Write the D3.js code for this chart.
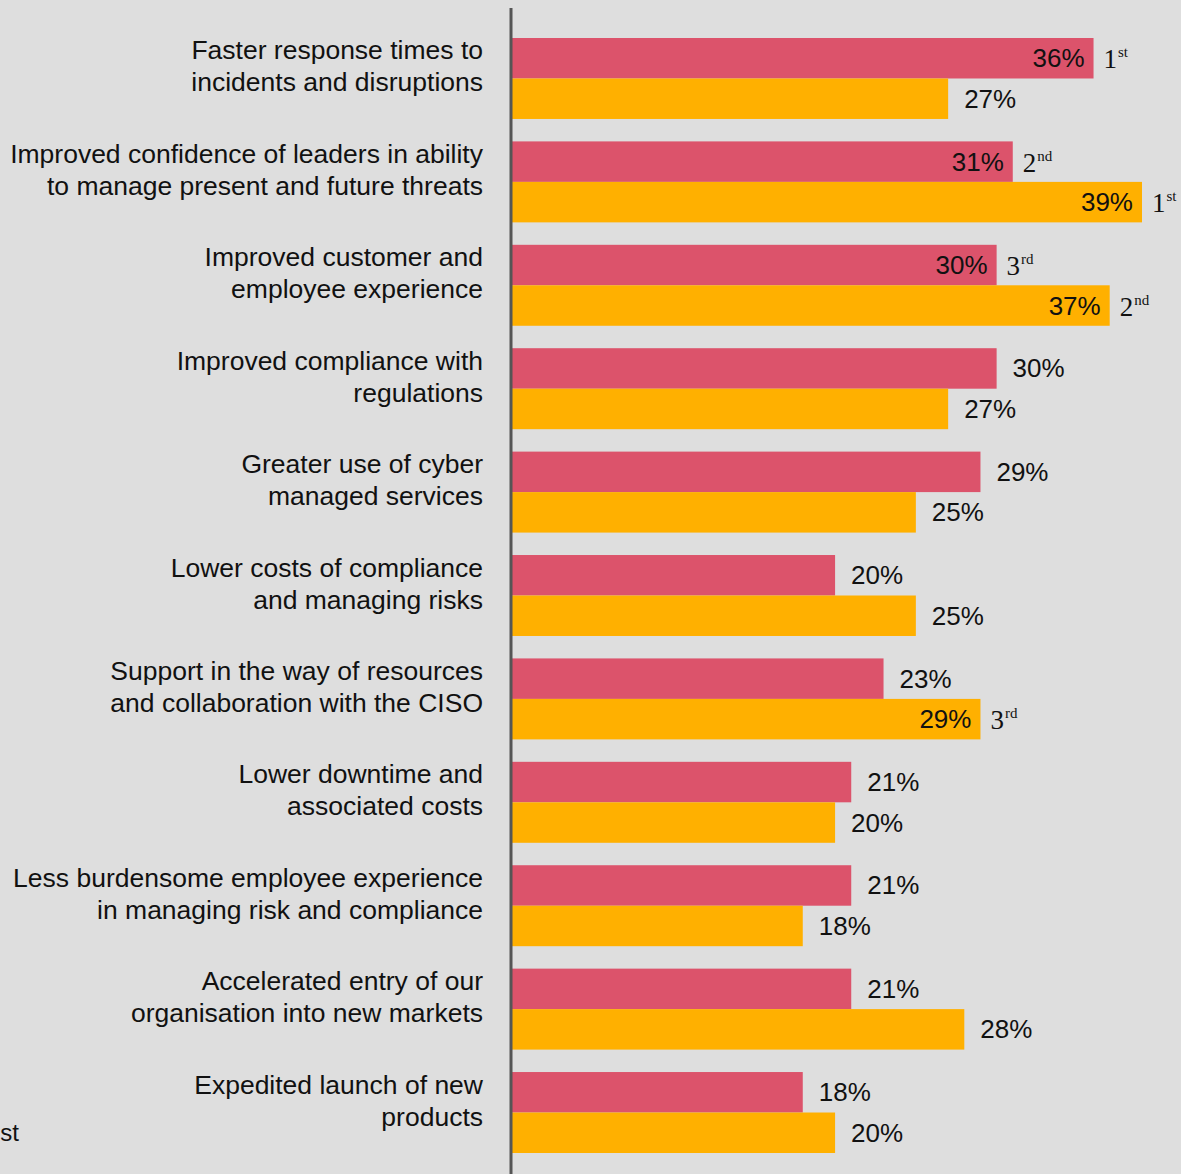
<!DOCTYPE html>
<html>
<head>
<meta charset="utf-8">
<script src="https://cdn.jsdelivr.net/npm/d3@7"></script>
<style>
  html, body { margin: 0; padding: 0; background: #dedede; }
  svg { display: block; }
</style>
</head>
<body>
<svg id="chart" width="1181" height="1174"></svg>
<script>
// Benefit categories, each split into its two display lines
const categories = [
  ["Faster response times to", "incidents and disruptions"],
  ["Improved confidence of leaders in ability", "to manage present and future threats"],
  ["Improved customer and", "employee experience"],
  ["Improved compliance with", "regulations"],
  ["Greater use of cyber", "managed services"],
  ["Lower costs of compliance", "and managing risks"],
  ["Support in the way of resources", "and collaboration with the CISO"],
  ["Lower downtime and", "associated costs"],
  ["Less burdensome employee experience", "in managing risk and compliance"],
  ["Accelerated entry of our", "organisation into new markets"],
  ["Expedited launch of new", "products"]
];

// Share of respondents (%) for the two groups
const seriesA = [36, 31, 30, 30, 29, 20, 23, 21, 21, 21, 18];
const seriesB = [27, 39, 37, 27, 25, 25, 29, 20, 18, 28, 20];

// Rank badges (top three in each group), empty where unranked
const ranksA = ["1st", "2nd", "3rd", "", "", "", "", "", "", "", ""];
const ranksB = ["", "1st", "2nd", "", "", "", "3rd", "", "", "", ""];

const seriesKeys = ["A", "B"];
const colors = { A: "#dc536b", B: "#ffb000" };

const svg = d3.select("#chart");
const W = 1181, H = 1174;
const axisX = 512;

const keys = categories.map((d, i) => i);

const y = d3.scaleBand()
  .domain(keys)
  .range([38, 1153])
  .paddingInner(0.217)
  .paddingOuter(0);

const ySub = d3.scaleBand()
  .domain(seriesKeys)
  .range([0, y.bandwidth()])
  .padding(0);

const x = d3.scaleLinear().domain([0, 39]).range([axisX, 1142]);

const rows = keys.map(i => ({
  i,
  lines: categories[i],
  values: [
    { key: "A", v: seriesA[i], rank: ranksA[i] },
    { key: "B", v: seriesB[i], rank: ranksB[i] }
  ]
}));

// Category labels on the left
const labelFont = "'Liberation Sans', Arial, sans-serif";
const catG = svg.append("g");
rows.forEach(r => {
  const cy = y(r.i) + y.bandwidth() / 2 - 16;
  const t = catG.append("text")
    .attr("x", 483)
    .attr("y", cy)
    .attr("text-anchor", "end")
    .attr("font-family", labelFont)
    .attr("font-size", 26.5)
    .attr("fill", "#111");
  r.lines.forEach((ln, k) => {
    t.append("tspan")
      .attr("x", 483)
      .attr("dy", k === 0 ? -3 : 32)
      .text(ln);
  });
});

// Bars
const groups = svg.append("g").selectAll("g.row")
  .data(rows)
  .join("g")
  .attr("class", "row")
  .attr("transform", d => `translate(0,${y(d.i)})`);

groups.selectAll("rect")
  .data(d => d.values)
  .join("rect")
  .attr("x", axisX)
  .attr("y", d => ySub(d.key))
  .attr("width", d => x(d.v) - axisX)
  .attr("height", ySub.bandwidth())
  .attr("fill", d => colors[d.key]);

// Value labels: inside the bar end for ranked bars, outside otherwise
groups.selectAll("text.val")
  .data(d => d.values)
  .join("text")
  .attr("class", "val")
  .attr("x", d => d.rank ? x(d.v) - 9 : x(d.v) + 16)
  .attr("y", d => ySub(d.key) + ySub.bandwidth() / 2 + 9)
  .attr("text-anchor", d => d.rank ? "end" : "start")
  .attr("font-family", labelFont)
  .attr("font-size", 26)
  .attr("fill", "#111")
  .text(d => d.v + "%");

// Rank badges with superscript suffix
const rankText = groups.selectAll("text.rank")
  .data(d => d.values.filter(v => v.rank))
  .join("text")
  .attr("class", "rank")
  .attr("x", d => x(d.v) + 10)
  .attr("y", d => ySub(d.key) + ySub.bandwidth() / 2 + 10)
  .attr("font-family", "'Liberation Serif', 'Times New Roman', serif")
  .attr("font-size", 27)
  .attr("fill", "#111");
rankText.append("tspan").text(d => d.rank.slice(0, 1));
rankText.append("tspan")
  .attr("font-size", 15)
  .attr("dx", 1)
  .attr("dy", -11)
  .text(d => d.rank.slice(1));

// Vertical baseline axis
svg.append("line")
  .attr("x1", axisX - 1).attr("x2", axisX - 1)
  .attr("y1", 8).attr("y2", H)
  .attr("stroke", "#555")
  .attr("stroke-width", 3);

// Clipped legend fragment at the lower left
svg.append("text")
  .attr("x", 19)
  .attr("y", 1141)
  .attr("text-anchor", "end")
  .attr("font-family", labelFont)
  .attr("font-size", 24)
  .attr("fill", "#111")
  .text("st");
</script>
</body>
</html>
